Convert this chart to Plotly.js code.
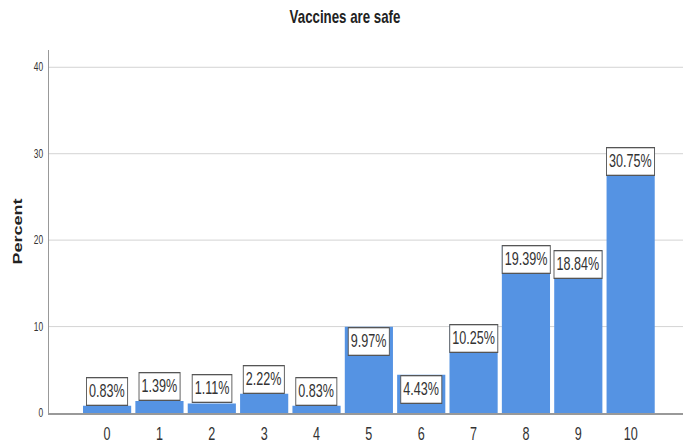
<!DOCTYPE html>
<html>
<head>
<meta charset="utf-8">
<script src="https://cdn.plot.ly/plotly-3.0.1.min.js"></script>
<style>
html,body{margin:0;padding:0;background:#fff;overflow:hidden;width:683px;height:447px;}
#wrap{width:683px;height:447px;overflow:hidden;position:relative;}
#chart{width:976px;height:447px;transform-origin:0 0;transform:scaleX(0.69980);}
</style>
</head>
<body>
<div id="wrap"><div id="chart"></div></div>
<script>
// Data
const categories = ["0","1","2","3","4","5","6","7","8","9","10"];
const percents = [0.83, 1.39, 1.11, 2.22, 0.83, 9.97, 4.43, 10.25, 19.39, 18.84, 30.75];
const labels = ["0.83%","1.39%","1.11%","2.22%","0.83%","9.97%","4.43%","10.25%","19.39%","18.84%","30.75%"];
const yTicks = [0, 10, 20, 30, 40];

const FONT = '"Liberation Sans", Arial, sans-serif';
const xs = categories.map(Number);

// The reference is horizontally squeezed; draw wide and compress with CSS.
const W = 976, H = 447, mt = 50, mb = 34, ml = 70;
const yMax = 42;
const pxPerUnit = (H - mt - mb) / yMax;
const boxPx = 29;
const threshold = boxPx / pxPerUnit;

const annotations = xs.map((x, i) => ({
  x: x, y: percents[i], xref: 'x', yref: 'y',
  text: labels[i], showarrow: false,
  yanchor: percents[i] > threshold ? 'top' : 'bottom',
  xanchor: 'center',
  bgcolor: '#ffffff', bordercolor: '#555555', borderwidth: 1.3, borderpad: 3,
  font: {family: FONT, size: 18, color: '#333333'}
}));

const trace = {
  type: 'bar', x: xs, y: percents,
  marker: {color: '#5593e3', line: {width: 0}},
  hoverinfo: 'skip'
};

const layout = {
  width: W, height: H,
  margin: {l: ml, r: 0, t: mt, b: mb},
  paper_bgcolor: '#ffffff', plot_bgcolor: '#ffffff',
  bargap: 0.08,
  showlegend: false,
  title: {
    text: '<b>Vaccines are safe</b>',
    x: 345/683, xref: 'container', xanchor: 'center',
    y: 1 - 16/447, yref: 'container', yanchor: 'middle',
    font: {family: FONT, size: 19, color: '#222222'}
  },
  xaxis: {
    range: [-1.11, 11.0],
    tickvals: xs, ticktext: categories,
    showgrid: false, zeroline: false,
    showline: true, linecolor: '#999999', linewidth: 1.5,
    ticks: '', ticklabelstandoff: 4,
    tickfont: {family: FONT, size: 18, color: '#333333'},
    fixedrange: true
  },
  yaxis: {
    range: [0, yMax],
    tickvals: yTicks, ticktext: yTicks.map(String),
    showgrid: true, gridcolor: '#cccccc', gridwidth: 1,
    zeroline: false,
    showline: true, linecolor: '#999999', linewidth: 2,
    ticks: '', ticklabelstandoff: 4,
    tickfont: {family: FONT, size: 12, color: '#333333'},
    title: {text: '<b>Percent</b>', font: {family: FONT, size: 18, color: '#222222'}, standoff: 12},
    fixedrange: true
  },
  annotations: annotations
};

Plotly.newPlot('chart', [trace], layout, {displayModeBar: false, staticPlot: true});
</script>
</body>
</html>
